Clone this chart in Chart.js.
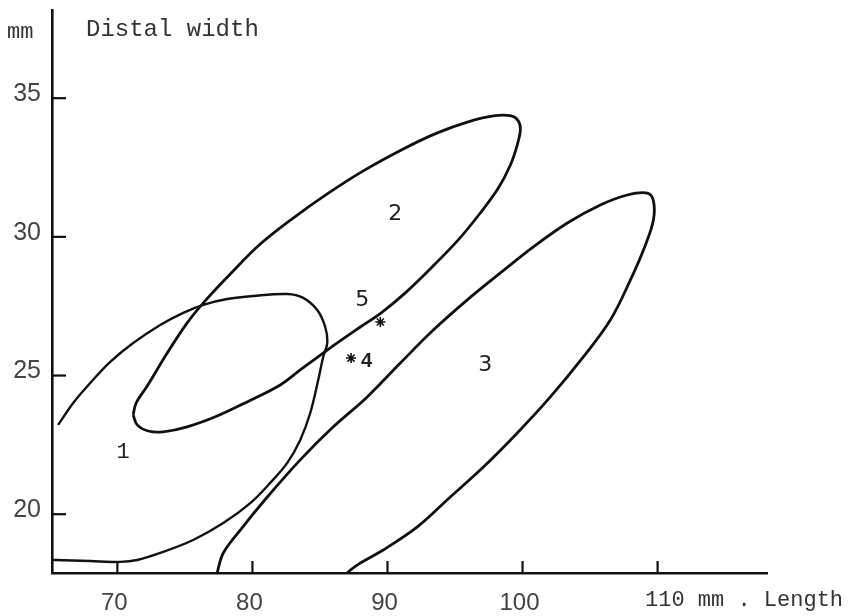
<!DOCTYPE html>
<html>
<head>
<meta charset="utf-8">
<script src="https://cdn.jsdelivr.net/npm/chart.js@4/dist/chart.umd.min.js"></script>
<style>
  html, body { margin: 0; padding: 0; background: #fff; }
  canvas { display: block; }
</style>
</head>
<body>
<canvas id="c" width="865" height="616"></canvas>
<script>
// ---- data (Length mm, Distal width mm) ----
const xTicks = [70, 80, 90, 100, 110];
const xTickLabels = ['70', '80', '90', '100'];
const yTicks = [20, 25, 30, 35];
const yTickLabels = ['20', '25', '30', '35'];

const curve1 = [
  [65.61,23.22],[66.73,24.01],[67.99,24.73],[69.47,25.49],[71.17,26.17],[73.17,26.82],
  [74.87,27.26],[76.36,27.55],[78.13,27.76],[80.06,27.87],[82.58,27.94],[83.76,27.80],
  [84.80,27.36],[85.39,26.75],[85.54,26.17],[85.24,25.67],[84.87,24.84],[84.28,23.65],
  [83.54,22.68],[82.58,21.85],[81.32,21.13],[79.84,20.40],[77.84,19.68],[75.61,19.07],
  [73.39,18.64],[71.47,18.35],[70.21,18.28],[67.99,18.31],[65.39,18.35],[64.80,18.36]
];
const curve2 = [
  [71.17,23.58],[71.39,24.01],[72.21,24.62],[73.69,25.81],[75.17,26.90],[76.50,27.69],
  [78.36,28.66],[80.58,29.74],[83.02,30.68],[85.54,31.55],[88.21,32.38],[91.17,33.17],
  [93.69,33.75],[95.91,34.14],[97.84,34.36],[99.17,34.36],[99.69,34.18],[99.84,33.86],
  [99.61,33.32],[99.10,32.59],[98.21,31.76],[96.87,30.86],[95.24,29.89],[93.32,28.92],
  [91.32,27.98],[89.54,27.26],[87.99,26.75],[85.54,25.92],[83.54,25.20],[82.06,24.66],
  [79.61,24.05],[77.39,23.54],[75.17,23.15],[73.39,22.97],[72.28,23.00],[71.47,23.22],
  [71.17,23.58]
];
const curve3 = [
  [77.30,17.60],[77.39,17.88],[77.84,18.60],[79.10,19.43],[81.10,20.62],[83.54,21.96],[85.99,23.15],
  [88.50,24.23],[90.95,25.45],[93.39,26.64],[95.91,27.73],[98.36,28.70],[100.80,29.64],
  [103.32,30.50],[105.76,31.15],[107.76,31.51],[109.24,31.58],[109.69,31.30],[109.69,30.61],
  [109.10,29.71],[107.99,28.45],[106.50,27.00],[104.50,25.67],[102.06,24.23],[99.61,22.93],
  [97.10,21.70],[94.65,20.62],[92.21,19.54],[89.69,18.71],[87.99,18.24],[87.02,17.88],[86.80,17.60]
];
const specimens = [[89.47,26.93],[87.30,25.63]];
const areaLabels = ['1','2','3','5','4'];
const areaLabelPos = [[70.43,22.24],[90.58,30.83],[97.24,25.38],[88.13,27.73],[88.45,25.49]];

const toPts = a => a.map(p => ({x: p[0], y: p[1]}));
const lineDs = (pts, w) => ({
  type: 'scatter', data: toPts(pts), showLine: true, borderColor: '#111',
  borderWidth: w, pointRadius: 0, tension: 0.35, fill: false
});

const decor = {
  id: 'decor',
  afterDraw(chart) {
    const ctx = chart.ctx, xs = chart.scales.x, ys = chart.scales.y, a = chart.chartArea;
    ctx.save();
    ctx.strokeStyle = '#111';
    ctx.lineWidth = 2.2;
    xTicks.forEach(v => {
      const px = xs.getPixelForValue(v);
      ctx.beginPath(); ctx.moveTo(px, a.bottom); ctx.lineTo(px, a.bottom - 12); ctx.stroke();
    });
    yTicks.forEach(v => {
      const py = ys.getPixelForValue(v);
      ctx.beginPath(); ctx.moveTo(a.left, py); ctx.lineTo(a.left + 14, py); ctx.stroke();
    });
    // in-plot labels
    ctx.fillStyle = '#222';
    ctx.textAlign = 'center';
    ctx.textBaseline = 'middle';
    areaLabels.forEach((t, i) => {
      ctx.font = (t === '1') ? '22px "Liberation Mono"' : (t === '4' ? 'bold 20px "Liberation Sans"' : '22px "DejaVu Sans"');
      ctx.fillText(t, xs.getPixelForValue(areaLabelPos[i][0]), ys.getPixelForValue(areaLabelPos[i][1]));
    });
    // axis titles
    ctx.fillStyle = '#333';
    ctx.textAlign = 'left';
    ctx.font = '22px "Liberation Mono"';
    ctx.fillText('mm', 7, 32);
    ctx.font = '24px "Liberation Mono"';
    ctx.fillText('Distal width', 86, 30);
    ctx.font = '22px "Liberation Mono"';
    ctx.fillText('110 mm . Length', 645, 600);
    ctx.restore();
  }
};

new Chart(document.getElementById('c'), {
  type: 'scatter',
  data: {
    datasets: [
      lineDs(curve1, 2.4),
      lineDs(curve2, 2.8),
      lineDs(curve3, 2.8),
      { type: 'scatter', data: toPts(specimens), pointStyle: 'star', pointRadius: 5,
        borderColor: '#111', borderWidth: 1.6, backgroundColor: '#111' }
    ]
  },
  options: {
    responsive: false,
    animation: false,
    layout: { padding: { left: 0, right: 98, top: 10, bottom: 0 } },
    plugins: { legend: { display: false }, tooltip: { enabled: false } },
    scales: {
      x: {
        type: 'linear', min: 65.16, max: 118.1,
        afterBuildTicks: s => { s.ticks = xTickLabels.map(t => ({ value: Number(t) })); },
        afterFit: s => { s.height = 43; s.paddingLeft = 0; s.paddingRight = 0; },
        ticks: { color: '#444', font: { family: 'Liberation Sans', size: 24 }, padding: 16, maxRotation: 0,
                 labelOffset: -3, callback: v => String(v) },
        grid: { display: false, drawTicks: false },
        border: { display: true, color: '#111', width: 2.6 }
      },
      y: {
        type: 'linear', min: 17.88, max: 38.18,
        afterBuildTicks: s => { s.ticks = yTickLabels.map(t => ({ value: Number(t) })); },
        afterFit: s => { s.width = 52; s.paddingTop = 0; s.paddingBottom = 0; },
        ticks: { color: '#444', font: { family: 'Liberation Sans', size: 25 }, padding: 11,
                 labelOffset: -4, callback: v => String(v) },
        grid: { display: false, drawTicks: false },
        border: { display: true, color: '#111', width: 2.6 }
      }
    }
  },
  plugins: [decor]
});
</script>
</body>
</html>
